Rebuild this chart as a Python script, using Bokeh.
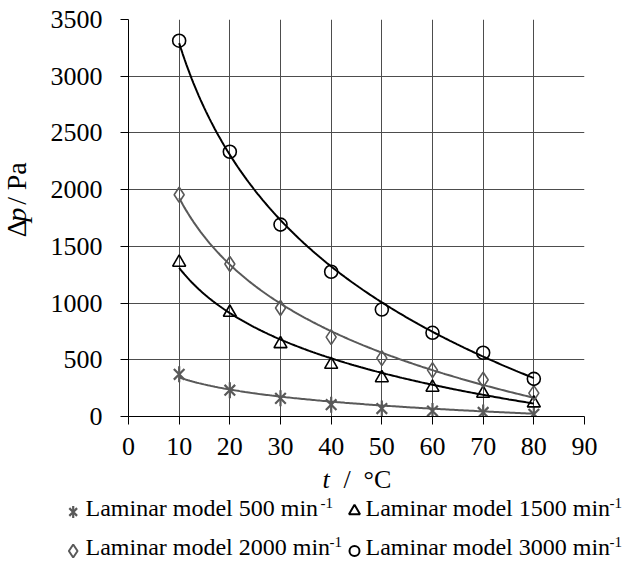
import numpy as np
from bokeh.plotting import figure
from bokeh.layouts import row, column
from bokeh.models import ColumnDataSource, FixedTicker, Range1d
from bokeh.embed import file_html
from bokeh.resources import INLINE

# ---- data ----
temperature = [10, 20, 30, 40, 50, 60, 70, 80]
# model points (markers)
dp_500 = [372, 232, 160, 104, 70, 48, 36, 20]
dp_1500 = [1358, 917, 640, 458, 340, 256, 203, 118]
dp_2000 = [1955, 1344, 956, 700, 515, 409, 324, 206]
dp_3000 = [3313, 2334, 1692, 1276, 943, 738, 562, 332]
# values of the drawn (logarithmic) trend curves, read at the same temperatures
curve_500 = [344, 237, 175, 138, 96, 68, 44, 24]
curve_1500 = [1314, 917, 667, 506, 388, 280, 197, 115]
curve_2000 = [1946, 1330, 976, 741, 550, 418, 300, 168]
curve_3000 = [3290, 2330, 1720, 1314, 976, 755, 545, 344]

x_ticks = [0, 10, 20, 30, 40, 50, 60, 70, 80, 90]
y_ticks = [0, 500, 1000, 1500, 2000, 2500, 3000, 3500]

legend_main = ["Laminar model 500 min", "Laminar model 1500 min",
               "Laminar model 2000 min", "Laminar model 3000 min"]
legend_sup = ["-1", "-1", "-1", "-1"]

FONT = "Liberation Serif"
BLACK = "#000000"
GRAY = "#595959"
GRID = "#4d4d4d"
SHIFT = 10  # text glyph baseline correction (px)

# ---------------- main chart ----------------
p = figure(width=587, height=465, output_backend="svg", toolbar_location=None,
           title_location=None,
           x_range=Range1d(0, 90), y_range=Range1d(0, 3500),
           min_border_left=93, min_border_right=38, min_border_top=19,
           min_border_bottom=49)
p.outline_line_color = None

for ax in (p.xaxis[0], p.yaxis[0]):
    ax.major_label_text_font = FONT
    ax.major_label_text_font_size = "26px"
    ax.major_label_text_color = BLACK
    ax.axis_line_color = BLACK
    ax.major_tick_line_color = BLACK
    ax.major_tick_in = 0
    ax.major_tick_out = 8
    ax.minor_tick_line_color = None
p.xaxis.ticker = FixedTicker(ticks=x_ticks)
p.yaxis.ticker = FixedTicker(ticks=y_ticks)
p.xaxis.major_label_standoff = 13
p.yaxis.major_label_standoff = 18

p.xgrid.ticker = FixedTicker(ticks=x_ticks)
p.ygrid.ticker = FixedTicker(ticks=y_ticks)
for g in (p.xgrid[0], p.ygrid[0]):
    g.grid_line_color = GRID
    g.grid_line_width = 1

# logarithmic trend lines (least-squares on ln t) through the read curve values
t_arr = np.array(temperature, float)
xs = np.linspace(t_arr.min(), t_arr.max(), 200)
for ys, col in [(curve_500, GRAY), (curve_1500, BLACK),
                (curve_2000, GRAY), (curve_3000, BLACK)]:
    b, a = np.polyfit(np.log(t_arr), np.array(ys, float), 1)
    p.line(xs, a + b * np.log(xs), line_color=col, line_width=2)

src = ColumnDataSource(dict(t=temperature, d500=dp_500, d1500=dp_1500,
                            d2000=dp_2000, d3000=dp_3000))
p.scatter("t", "d500", source=src, marker="x", size=15, line_color=GRAY, line_width=2.2)
p.scatter("t", "d500", source=src, marker="dash", size=16, angle=np.pi / 2,
          line_color=GRAY, line_width=2.2)
p.scatter("t", "d1500", source=src, marker="triangle", size=13,
          line_color=BLACK, fill_color=None, line_width=1.6)
p.scatter("t", "d2000", source=src, marker="diamond", size=15,
          line_color=GRAY, fill_color=None, line_width=1.6)
p.scatter("t", "d3000", source=src, marker="circle", size=13,
          line_color=BLACK, fill_color=None, line_width=1.6)


def blank(w, h):
    f = figure(width=w, height=h, output_backend="svg", toolbar_location=None,
               title_location=None,
               x_range=Range1d(0, w), y_range=Range1d(h, 0),
               x_axis_location=None, y_axis_location=None,
               min_border=0, min_border_left=0, min_border_right=0,
               min_border_top=0, min_border_bottom=0)
    f.grid.visible = False
    f.outline_line_color = None
    return f

# ---------------- y axis title ----------------
yl = blank(35, 465)
ysrc = ColumnDataSource(dict(x=[26 - SHIFT] * 4, y=[255, 237, 217, 200],
                             txt=["\u0394", "p", "/", "Pa"],
                             st=["normal", "italic", "normal", "normal"]))
yl.text("x", "y", text="txt", source=ysrc, angle=np.pi / 2, text_font_style="st",
        text_font={"value": FONT}, text_font_size={"value": "28px"},
        text_color=BLACK, text_align="left", text_baseline="alphabetic")

# ---------------- x title + legend ----------------
bt = blank(622, 96)
xsrc = ColumnDataSource(dict(x=[322, 343, 363], y=[24 - SHIFT] * 3,
                             txt=["t", "/", "\u00b0C"],
                             st=["italic", "normal", "normal"]))
bt.text("x", "y", text="txt", source=xsrc, text_font_style="st",
        text_font={"value": FONT}, text_font_size={"value": "26px"},
        text_color=BLACK, text_align="left", text_baseline="alphabetic")

lx = [85, 365, 85, 365]
ly = [52 - SHIFT, 52 - SHIFT, 91 - SHIFT, 91 - SHIFT]
lsx = [320, 609, 329, 609]
bt.text(lx, ly, text=legend_main, text_font={"value": FONT},
        text_font_size={"value": "24px"}, text_color=BLACK,
        text_align="left", text_baseline="alphabetic")
bt.text(lsx, [v - 5 for v in ly], text=legend_sup, text_font={"value": FONT},
        text_font_size={"value": "15px"}, text_color=BLACK,
        text_align="left", text_baseline="alphabetic")
mx = [72.7, 354, 72.7, 354]
my = [46.5, 45.5, 85.5, 85.5]
bt.scatter([mx[0]], [my[0]], marker="x", size=11, line_color=GRAY, line_width=2.2)
bt.scatter([mx[0]], [my[0]], marker="dash", size=12, angle=np.pi / 2,
           line_color=GRAY, line_width=2.2)
bt.scatter([mx[1]], [my[1]], marker="triangle", size=11, line_color=BLACK,
           fill_color=None, line_width=2)
bt.scatter([mx[2]], [my[2]], marker="diamond", size=13, line_color=GRAY,
           fill_color=None, line_width=2)
bt.scatter([mx[3]], [my[3]], marker="circle", size=10, line_color=BLACK,
           fill_color=None, line_width=2)

layout = column(row(yl, p, spacing=0), bt, spacing=0)
open("out.html", "w").write(file_html(layout, INLINE))
